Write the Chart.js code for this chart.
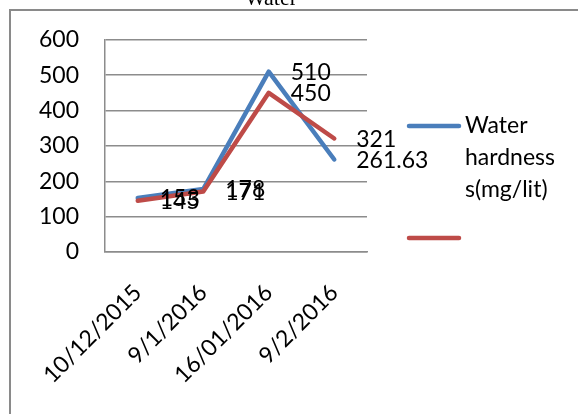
<!DOCTYPE html>
<html>
<head>
<meta charset="utf-8">
<script src="https://cdn.jsdelivr.net/npm/chart.js@4/dist/chart.umd.min.js"></script>
<style>
  html, body { margin: 0; padding: 0; background: #fff; }
  #wrap { width: 578px; height: 414px; position: relative; }
</style>
</head>
<body>
<div id="wrap"><canvas id="c" width="578" height="414"></canvas></div>
<script>
// Sampling dates
const categories = ['10/12/2015', '9/1/2016', '16/01/2016', '9/2/2016'];
// Water hardness readings (mg/lit)
const hardnessA = [153, 178, 510, 261.63];
const hardnessB = [145, 171, 450, 321];
const seriesNames = [['Water', 'hardness', 's(mg/lit)'], ['']];
const yTicks = [0, 100, 200, 300, 400, 500, 600];

const FONT_FAMILY = 'Lato, "Open Sans", sans-serif';
const FONT_SIZE = 23;
const BLUE = '#4A7EBB';
const RED = '#BE4B48';
const GRID = '#8c8c8c';

// Value labels placed to the right of each point
const valueLabels = {
  id: 'valueLabels',
  afterDatasetsDraw(chart) {
    const ctx = chart.ctx;
    ctx.save();
    ctx.font = FONT_SIZE + 'px ' + FONT_FAMILY;
    ctx.fillStyle = '#000';
    ctx.textAlign = 'left';
    ctx.textBaseline = 'middle';
    chart.data.datasets.forEach((ds, di) => {
      const meta = chart.getDatasetMeta(di);
      meta.data.forEach((pt, i) => {
        ctx.fillText(String(ds.data[i]), pt.x + 22, pt.y + 1);
      });
    });
    ctx.restore();
  }
};

// Frame, clipped title and side legend
const decorations = {
  id: 'decorations',
  beforeDraw(chart) {
    const ctx = chart.ctx;
    ctx.save();
    ctx.fillStyle = '#fff';
    ctx.fillRect(0, 0, chart.width, chart.height);
    ctx.strokeStyle = '#8a8a8a';
    ctx.lineWidth = 2;
    ctx.strokeRect(10, 10, 800, 600);
    ctx.fillStyle = '#000';
    ctx.font = '22px "Liberation Serif", serif';
    ctx.textAlign = 'center';
    ctx.textBaseline = 'alphabetic';
    ctx.fillText('Water', 271, 5);
    ctx.restore();
  },
  afterDraw(chart) {
    const ctx = chart.ctx;
    ctx.save();
    const rows = [126, 238];
    chart.data.datasets.forEach((ds, di) => {
      const y = rows[di];
      ctx.strokeStyle = ds.borderColor;
      ctx.lineWidth = 4.5;
      ctx.lineCap = 'round';
      ctx.beginPath();
      ctx.moveTo(409, y);
      ctx.lineTo(459, y);
      ctx.stroke();
      ctx.fillStyle = '#000';
      ctx.font = FONT_SIZE + 'px ' + FONT_FAMILY;
      ctx.textAlign = 'left';
      ctx.textBaseline = 'middle';
      seriesNames[di].forEach((line, li) => {
        ctx.fillText(line, 465, y + li * 32);
      });
    });
    ctx.restore();
  }
};

new Chart(document.getElementById('c'), {
  type: 'line',
  data: {
    labels: categories,
    datasets: [
      {
        label: seriesNames[0].join(' '),
        data: hardnessA,
        borderColor: BLUE,
        borderWidth: 4.5,
        pointRadius: 0,
        borderCapStyle: 'round',
        borderJoinStyle: 'round',
        tension: 0,
        order: 1
      },
      {
        label: seriesNames[1].join(' '),
        data: hardnessB,
        borderColor: RED,
        borderWidth: 4.5,
        pointRadius: 0,
        borderCapStyle: 'round',
        borderJoinStyle: 'round',
        tension: 0,
        order: 0
      }
    ]
  },
  options: {
    responsive: false,
    animation: false,
    devicePixelRatio: 1,
    layout: { padding: { left: 0, right: 211, top: 38, bottom: 0 } },
    plugins: {
      legend: { display: false },
      tooltip: { enabled: false },
      title: { display: false }
    },
    scales: {
      x: {
        offset: true,
        grid: { display: false, drawTicks: false },
        border: { display: true, color: GRID, width: 1.5 },
        ticks: {
          color: '#000',
          font: { family: FONT_FAMILY, size: FONT_SIZE },
          minRotation: 45,
          maxRotation: 45,
          autoSkip: false,
          padding: 27
        },
        afterFit(scale) { scale.height = 162; }
      },
      y: {
        min: 0,
        max: 600,
        afterBuildTicks(scale) { scale.ticks = yTicks.map(v => ({ value: v })); },
        grid: { color: GRID, lineWidth: 1.5, drawTicks: false },
        border: { display: true, color: GRID, width: 1.5 },
        ticks: {
          color: '#000',
          font: { family: FONT_FAMILY, size: FONT_SIZE },
          padding: 26
        },
        afterFit(scale) { scale.width = 105; }
      }
    }
  },
  plugins: [decorations, valueLabels]
});
</script>
</body>
</html>
